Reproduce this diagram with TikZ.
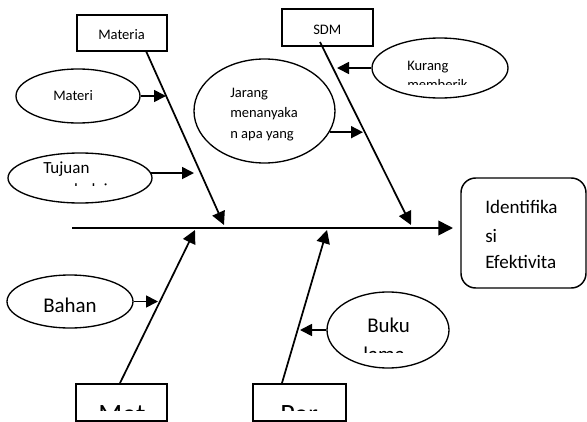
\documentclass[tikz,border=0pt]{standalone}
\usepackage{fontspec}
\setmainfont{Carlito}
\usetikzlibrary{arrows.meta,shapes.geometric}
\begin{document}
\begin{tikzpicture}[x=0.75pt,y=-0.75pt,
  oval/.style={draw,ellipse,line width=1pt,inner sep=0pt},
  labelbox/.style={draw,rectangle,line width=1.1pt,inner sep=0pt},
  bone/.style={line width=1.3pt,-{Triangle[length=10pt,width=10pt]}},
  feed/.style={line width=1.3pt,-{Triangle[length=9pt,width=9pt]}},
  txt/.style={anchor=base west,inner sep=0pt},
  fsmall/.style={font=\fontsize{10.9}{14}\selectfont},
  fmid/.style={font=\fontsize{12.75}{15}\selectfont},
  flarge/.style={font=\fontsize{15.7}{19}\selectfont},
  fhuge/.style={font=\fontsize{21}{25}\selectfont},
  fresult/.style={font=\fontsize{14.3}{17}\selectfont},
]
\useasboundingbox (0,0) rectangle (587,422);

% category boxes
\node[labelbox,minimum width=67.5pt,minimum height=27pt] (matbox) at (122,33) {};
\node[labelbox,minimum width=68.25pt,minimum height=27.75pt] (sdmbox) at (327.5,27.5) {};
\node[labelbox,minimum width=68.25pt,minimum height=27.75pt] (metbox) at (121.5,402.5) {};
\node[labelbox,minimum width=69.75pt,minimum height=27.75pt] (perbox) at (299.5,402.5) {};
\node[draw,rectangle,rounded corners=11pt,line width=1.1pt,inner sep=0pt,
      minimum width=93.75pt,minimum height=82.5pt] (idbox) at (523.5,233) {};

% cause ovals
\node[oval,minimum width=93pt,minimum height=40.5pt] (materi) at (78,96) {};
\node[oval,minimum width=108pt,minimum height=37.5pt] (tujuan) at (80,178) {};
\node[oval,minimum width=102pt,minimum height=45pt] (kurang) at (440,68) {};
\node[oval,minimum width=105.75pt,minimum height=78pt] (jarang) at (264.5,111) {};
\node[oval,minimum width=94.5pt,minimum height=39.75pt] (bahan) at (70,301.5) {};
\node[oval,minimum width=91.5pt,minimum height=57pt] (buku) at (388,330) {};

% labels
\node[txt,fsmall] (tmateria) at (98,39.5) {Materia};
\node[txt,fsmall] (tsdm) at (313,34) {SDM};
\node[txt,fsmall] (tmateri) at (53,100) {Materi};
\node[txt,fsmall] (tjar1) at (230,97) {Jarang};
\node[txt,fsmall] (tjar2) at (230,117.5) {menanyaka};
\node[txt,fsmall] (tjar3) at (230,138) {n apa yang};
\node[txt,fsmall] (tkur1) at (407,70) {Kurang};
\begin{scope}
  \clip (380,40) rectangle (505,84);
  \node[txt,fsmall] (tkur2) at (407,89) {memberik};
\end{scope}
\node[txt,fmid] (ttuj1) at (43,173) {Tujuan};
\begin{scope}
  \clip (20,160) rectangle (140,185);
  \node[txt,fmid] (ttuj2) at (43,195) {pembelajaran};
\end{scope}
\node[txt,flarge] (tbahan) at (43,312) {Bahan};
\node[txt,flarge] (tbuku1) at (367,332) {Buku};
\begin{scope}
  \clip (340,300) rectangle (440,352.5);
  \node[txt,flarge] (tbuku2) at (363,361) {lama};
\end{scope}
\begin{scope}
  \clip (78,386) rectangle (165,410);
  \node[txt,fhuge] (tmet) at (98,423) {Met};
\end{scope}
\begin{scope}
  \clip (255,386) rectangle (344,410);
  \node[txt,fhuge] (tper) at (280,423) {Per};
\end{scope}
\node[txt,fresult] (tid1) at (485,213) {Identifika};
\node[txt,fresult] (tid2) at (485,242) {si};
\node[txt,fresult] (tid3) at (485,268) {Efektivita};

% spine
\coordinate (spineL) at (72,228);
\coordinate (spineR) at (453,228);
\draw[line width=1.3pt,-{Triangle[length=11pt,width=11pt]}] (spineL) -- (spineR);

% bones
\coordinate (boneA0) at (146,51);
\coordinate (boneA1) at (224,225);
\coordinate (boneB0) at (320,42);
\coordinate (boneB1) at (411,225);
\coordinate (boneC0) at (120,383);
\coordinate (boneC1) at (195,230);
\coordinate (boneD0) at (282,383);
\coordinate (boneD1) at (327,230);
\draw[bone] (boneA0) -- (boneA1);
\draw[bone] (boneB0) -- (boneB1);
\draw[bone] (boneC0) -- (boneC1);
\draw[bone] (boneD0) -- (boneD1);

% cause arrows
\coordinate (tipMateri) at (166,96);
\coordinate (tipTujuan) at (194,173);
\coordinate (tipKurang) at (337,70);
\coordinate (tipJarang) at (363,132);
\coordinate (tipBahan) at (158,301.5);
\coordinate (tipBuku) at (300,330);
\draw[feed] (materi.east) -- (tipMateri);
\draw[feed] (tujuan.4) -- (tujuan.4 -| tipTujuan);
\draw[feed] (kurang.west) -- (kurang.west -| tipKurang);
\draw[feed] (jarang.-18) -- (jarang.-18 -| tipJarang);
\draw[feed] (bahan.east) -- (tipBahan);
\draw[feed] (buku.west) -- (tipBuku);
\end{tikzpicture}
\end{document}
